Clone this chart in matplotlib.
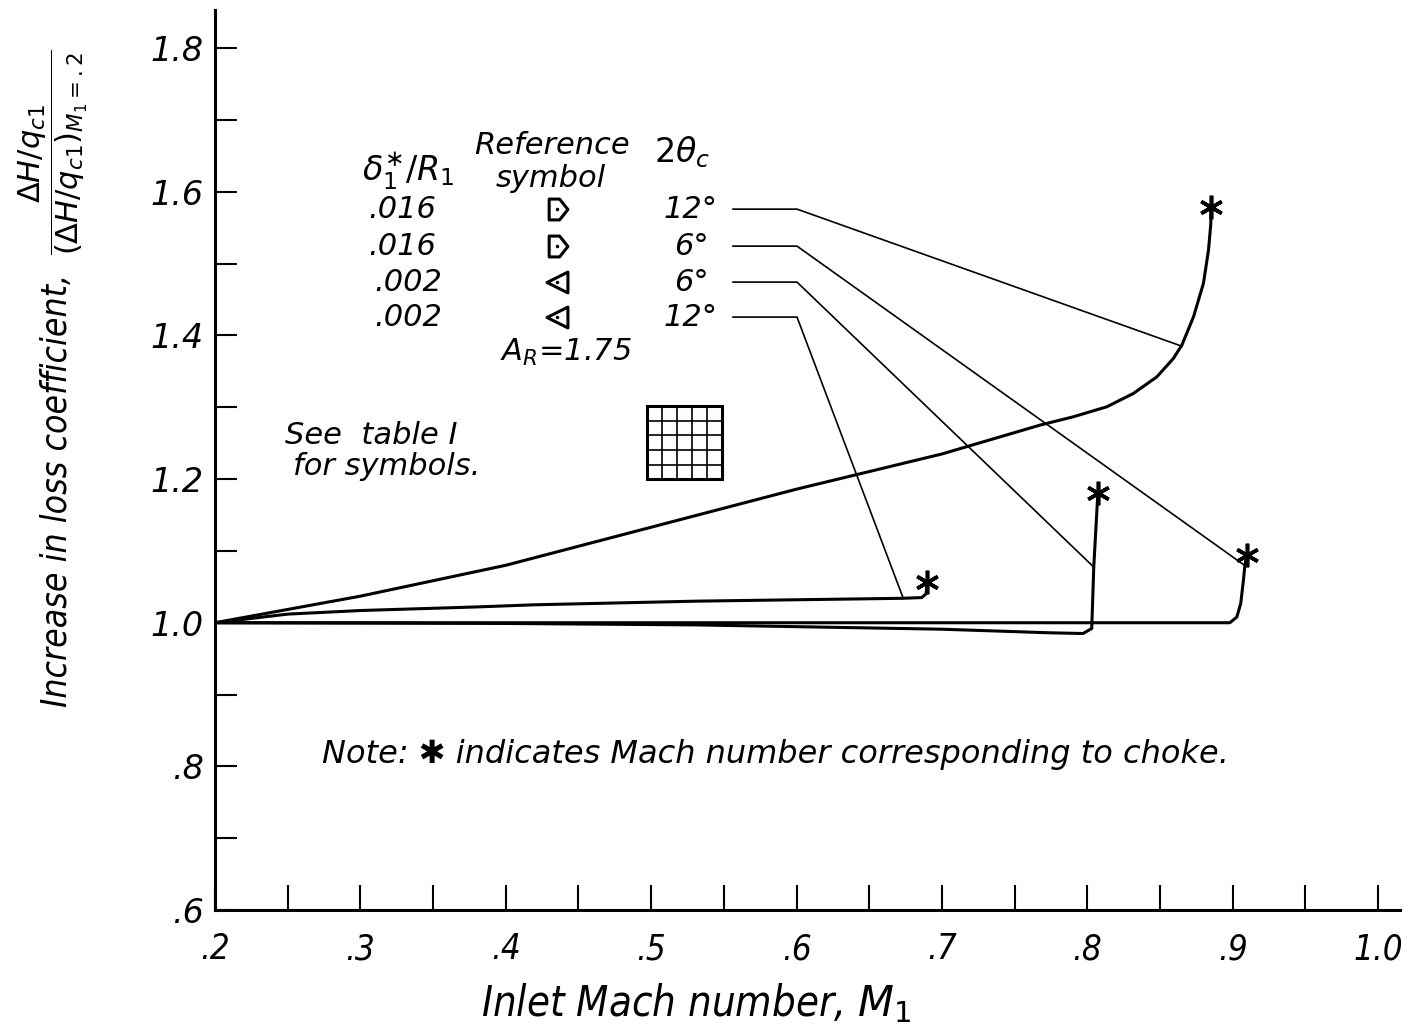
import matplotlib
matplotlib.use('Agg')
import matplotlib.pyplot as plt
from matplotlib.path import Path
from matplotlib.patches import Rectangle

plt.rcParams['font.family'] = ['DejaVu Sans']
plt.rcParams['mathtext.fontset'] = 'dejavusans'
plt.rcParams['mathtext.default'] = 'it'

# loss-coefficient ratio vs inlet Mach number, A_R = 1.75
m_016_12 = [0.20, 0.30, 0.40, 0.50, 0.60, 0.70, 0.7675, 0.7904, 0.8134, 0.8317, 0.8478, 0.8592,
            0.865, 0.873, 0.8798, 0.8833, 0.8849, 0.8849]
r_016_12 = [1.000, 1.037, 1.080, 1.133, 1.186, 1.235, 1.2752, 1.2868, 1.3007, 1.3193, 1.3424, 1.3681,
            1.3866, 1.426, 1.4724, 1.5188, 1.556, 1.579]

m_016_6 = [0.20, 0.50, 0.80, 0.898, 0.9028, 0.9055, 0.9073, 0.9085, 0.9097]
r_016_6 = [1.000, 1.000, 1.000, 1.000, 1.008, 1.027, 1.059, 1.083, 1.094]

m_002_6 = [0.20, 0.40, 0.53, 0.70, 0.774, 0.797, 0.8030, 0.8044, 0.8072]
r_002_6 = [1.000, 0.999, 0.997, 0.991, 0.986, 0.985, 0.992, 1.078, 1.180]

m_002_12 = [0.20, 0.25, 0.30, 0.38, 0.42, 0.53, 0.60, 0.672, 0.686, 0.689, 0.690]
r_002_12 = [1.000, 1.012, 1.017, 1.022, 1.025, 1.030, 1.032, 1.034, 1.035, 1.040, 1.057]

# choke points (last point of each curve)
choke_m = [m_016_12[-1], m_016_6[-1], m_002_6[-1], m_002_12[-1]]
choke_r = [r_016_12[-1], r_016_6[-1], r_002_6[-1], r_002_12[-1]]

# table rows: delta*/R, symbol, 2 theta_c
row_delta = ['.016', '.016', '.002', '.002']
row_symbol = ['right', 'right', 'left', 'left']
row_angle = ['12°', '6°', '6°', '12°']

# leader lines from the table rows to the curves
leader_y = [1.5759, 1.5244, 1.4743, 1.4256]
leader_end_m = [0.8650, 0.9078, 0.8044, 0.6733]
leader_end_r = [1.3850, 1.0803, 1.0775, 1.0344]

x_ticks = [0.2, 0.3, 0.4, 0.5, 0.6, 0.7, 0.8, 0.9, 1.0]
x_ticklabels = ['.2', '.3', '.4', '.5', '.6', '.7', '.8', '.9', '1.0']
x_minor = [0.25, 0.35, 0.45, 0.55, 0.65, 0.75, 0.85, 0.95]
y_ticks = [0.6, 0.8, 1.0, 1.2, 1.4, 1.6, 1.8]
y_ticklabels = ['.6', '.8', '1.0', '1.2', '1.4', '1.6', '1.8']
y_minor = [0.7, 0.9, 1.1, 1.3, 1.5, 1.7]

fig = plt.figure(figsize=(14.17, 10.32), dpi=100)
ax = fig.add_axes([0.1517, 0.1182, 0.8364, 0.872])
ax.set_xlim(0.2, 1.0151)
ax.set_ylim(0.6, 1.853)

for s in ['top', 'right']:
    ax.spines[s].set_visible(False)
for s in ['left', 'bottom']:
    ax.spines[s].set_linewidth(2.2)

ax.set_xticks(x_ticks)
ax.set_xticklabels(x_ticklabels, fontstyle='italic', fontsize=25, fontstretch='condensed')
ax.set_xticks(x_minor, minor=True)
ax.set_yticks(y_ticks)
ax.set_yticklabels(y_ticklabels, fontstyle='italic', fontsize=24)
ax.set_yticks(y_minor, minor=True)
ax.tick_params(axis='x', which='both', direction='in', length=18, width=1.5, pad=16)
ax.tick_params(axis='y', which='both', direction='in', length=16, width=1.5, pad=8)

# curves
for m, r in [(m_016_12, r_016_12), (m_016_6, r_016_6), (m_002_6, r_002_6), (m_002_12, r_002_12)]:
    ax.plot(m, r, color='black', lw=2.2, solid_joinstyle='round', solid_capstyle='round')

ax.plot(choke_m, choke_r, ls='none', marker=(6, 2, 0), ms=17, mew=2.6, color='black')

# leaders
for y, em, er in zip(leader_y, leader_end_m, leader_end_r):
    ax.plot([0.5563, 0.6003, em], [y, y, er], color='black', lw=1.2)

# table text
txt = dict(fontstyle='italic', color='black', ha='center', va='center')
ax.text(0.3328, 1.628, r'$\delta_1^{\ast}/R_1$', fontsize=24, **txt)
ax.text(0.4318, 1.665, 'Reference', fontsize=22, **txt)
ax.text(0.4310, 1.619, 'symbol', fontsize=22, **txt)
ax.text(0.5212, 1.655, r'$2\theta_c$', fontsize=24, **txt)

right_mark = Path([(-0.8, 1.0), (0.2, 1.0), (1.0, 0.0), (0.2, -1.0), (-0.8, -1.0), (-0.8, 1.0)],
                  [Path.MOVETO, Path.LINETO, Path.LINETO, Path.LINETO, Path.LINETO, Path.CLOSEPOLY])
left_mark = Path([(1.0, 1.0), (-1.0, 0.0), (1.0, -1.0), (1.0, 1.0)],
                 [Path.MOVETO, Path.LINETO, Path.LINETO, Path.CLOSEPOLY])

for d, sym, ang, y in zip(row_delta, row_symbol, row_angle, leader_y):
    ax.text(0.3052 if d == '.016' else 0.3094, y, d, fontsize=22, fontstyle='italic', ha='left', va='center')
    mk = right_mark if sym == 'right' else left_mark
    ax.plot([0.4353], [y], marker=mk, ms=15, mfc='none', mec='black', mew=2.2, ls='none')
    ax.plot([0.4353], [y], marker='.', ms=3, color='black', ls='none')
    ax.text(0.5274, y, ang, fontsize=22, **txt)

ax.text(0.4414, 1.3768, r'$A_R$=1.75', fontsize=22, **txt)

ax.text(0.248, 1.2613, 'See  table I', fontsize=22, fontstyle='italic', ha='left', va='center')
ax.text(0.2537, 1.218, 'for symbols.', fontsize=22, fontstyle='italic', ha='left', va='center')

# grid symbol
gx0, gx1, gy0, gy1 = 0.4971, 0.5487, 1.2, 1.3016
ax.add_patch(Rectangle((gx0, gy0), gx1 - gx0, gy1 - gy0, fill=False, lw=2.2, ec='black'))
for i in range(1, 5):
    ax.plot([gx0 + (gx1 - gx0) * i / 5] * 2, [gy0, gy1], color='black', lw=1.2)
    ax.plot([gx0, gx1], [gy0 + (gy1 - gy0) * i / 5] * 2, color='black', lw=1.2)

ax.text(0.2736, 0.8172, 'Note: ✱ indicates Mach number corresponding to choke.', fontsize=23,
        fontstyle='italic', ha='left', va='center')

# axis titles
fig.text(0.491, 0.028, r'Inlet Mach number, $M_1$', fontsize=30, fontstyle='italic',
         fontstretch='condensed', ha='center', va='center')
fig.text(0.040, 0.525, 'Increase in loss coefficient,', fontsize=25.5, fontstyle='italic',
         fontstretch='condensed', rotation=90, ha='center', va='center')
fig.text(0.038, 0.853, r'$\dfrac{\Delta H/q_{c1}}{(\Delta H/q_{c1})_{M_1=.2}}$', fontsize=22,
         rotation=90, ha='center', va='center')

fig.savefig('out.png', dpi=100)
